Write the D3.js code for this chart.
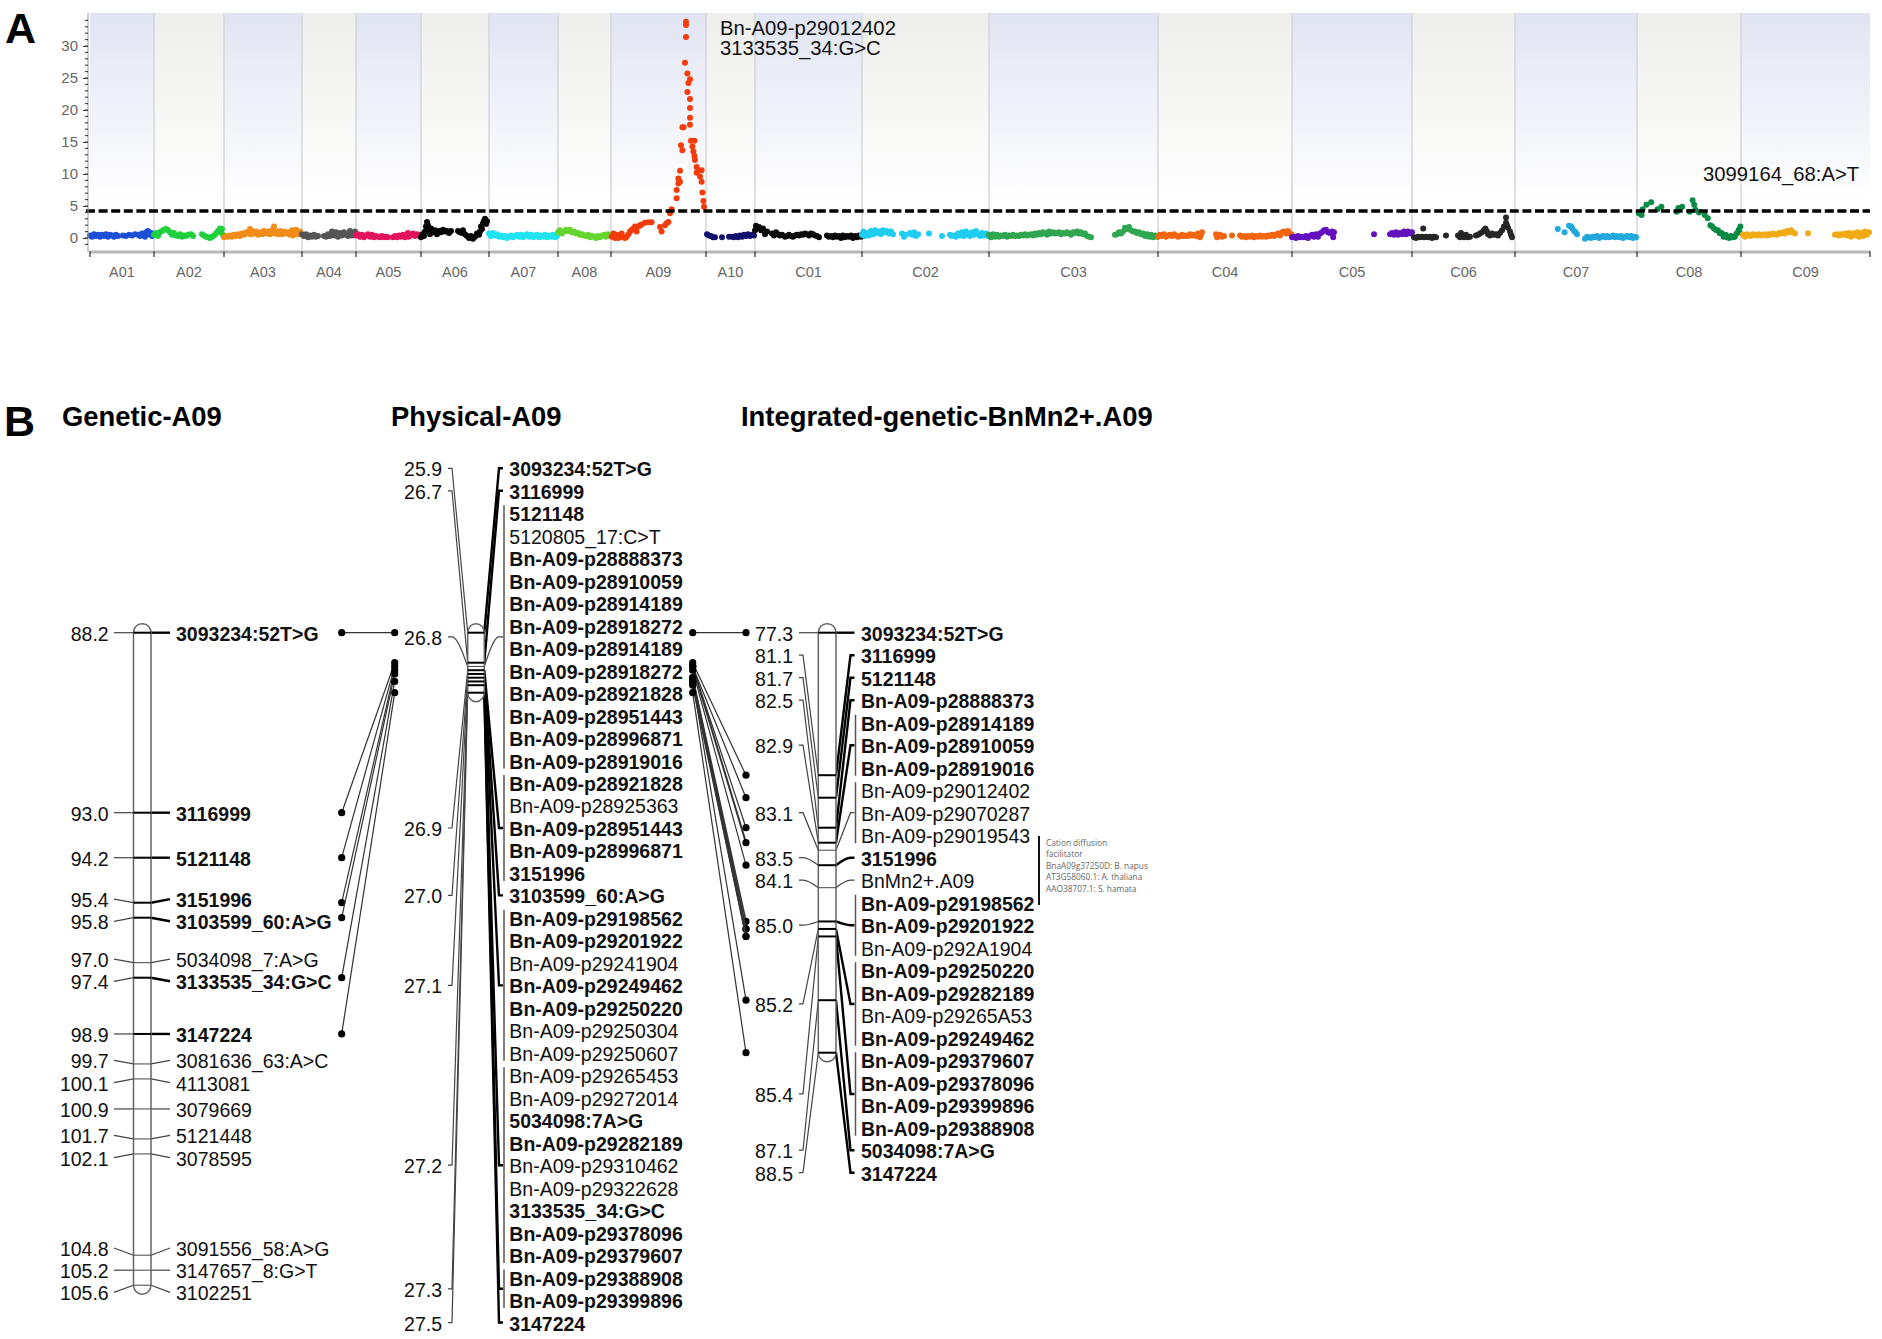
<!DOCTYPE html>
<html>
<head>
<meta charset="utf-8">
<title>Mn2+ QTL A09</title>
<script src="https://cdn.jsdelivr.net/npm/d3@7"></script>
<style>
body { margin: 0; background: #fff; }
text { font-family: "Liberation Sans", Arial, sans-serif; }
</style>
</head>
<body>
<script>
// panel A: chromosome names and lengths (Mb)
const chromNames = ["A01","A02","A03","A04","A05","A06","A07","A08","A09","A10","C01","C02","C03","C04","C05","C06","C07","C08","C09"];
const chromLengths = [32,35,39,27,32.5,34,34.5,26.5,47.5,24.5,53.5,63.5,84.5,67,60,51.5,61,52,64.5];
const lodTicks = [0,5,10,15,20,25,30];
const lodThreshold = 4.2;

// [position on chromosome, LOD]
const lodA01 = [[0,.4],[1,.2],[2,.6],[3,.3],[4,.5],[5,.2],[6,.5],[7,.3],[8,.6],[9,.2],[10,.5],[11,.4],[12,.2],[13,.5],[14,.3],[16.5,.4],[18,.3],[19.5,.5],[21,.4],[22.5,.6],[24,.5],[25,.3],[26,.7],[27,.5],[27.5,.2],[28,.9],[29,1.1],[29.5,.6],[30.5,.8],[31,.3],[31.5,.6]];
const lodA02 = [[0,.5],[1,.8],[2,.3],[3,.9],[4,1.1],[5,1.3],[6,1.4],[7,1.2],[8,.9],[9,.5],[10,.8],[11,.4],[12,.3],[13,.6],[14,.2],[15,.4],[16,.3],[17,.5],[18.5,.6],[19.5,.3],[24,.6],[25,.4],[26,.2],[27,.1],[28,0],[29,.2],[30,.4],[31,.7],[32,1.1],[33,1.5],[33.5,.9],[34,1.4],[34.5,.5]];
const lodA03 = [[0,.1],[1,.3],[2,.2],[3,.4],[4,.2],[5,.5],[6,.3],[7,.6],[8,.3],[9,.7],[10,.5],[11,.9],[12,.7],[13,1.4],[13.5,.6],[14,1.1],[15,.7],[16,1],[17,.5],[18,.9],[19,.6],[20,1.1],[21,.7],[22,1],[23,.6],[24,1.2],[25,1.8],[25.5,.7],[26,1],[27,.6],[28,1.1],[29,.6],[30,1],[31,.7],[32,.9],[33,.5],[34,1.2],[34.5,.4],[35,.7],[36,1.3],[37,.6],[38,1],[39,.5]];
const lodA04 = [[0,.6],[1,.3],[2,.6],[3,.1],[4,.4],[5,.2],[6,.5],[7,.2],[8,.3],[11,.3],[12,.2],[13,.6],[14,.3],[15,1],[16,.4],[17,.9],[18,.2],[19,.8],[20,.4],[21,.9],[22,.5],[23,.3],[24,1.1],[25,.4],[26,.8],[26.5,1]];
const lodA05 = [[0,.4],[1,.6],[2,.2],[3,.5],[4,.1],[5,.4],[6,.6],[7,.2],[8,.5],[9,.1],[10,.3],[11,.2],[12,.1],[13,.3],[14,.1],[15,.2],[16,.1],[18.5,.1],[19.5,.3],[20.5,.1],[21.5,.4],[22.5,.2],[23.5,.5],[24.5,.1],[25.5,.6],[26,.8],[26.5,.2],[27.5,.5],[28.5,.7],[29.5,.3],[30.5,.6],[31.5,.4],[32,.3]];
const lodA06 = [[0,.1],[.7,.6],[1.5,.3],[2,1],[2.5,1.8],[3,2.5],[3.5,2],[4,1.3],[4.5,.6],[5,1.5],[6,.9],[7,1.2],[8,.6],[9,1.1],[10,.9],[11,1.3],[12,1],[13,1.1],[14,.8],[15,1.1],[18.5,1.1],[19.5,.9],[20.5,.8],[21,1.2],[22,.6],[23,.3],[24,0],[25,.3],[26,-.1],[27,.2],[28,.7],[29,.5],[29.5,1],[30,1.8],[30.5,1.4],[31,2.3],[31.5,2.7],[32,3],[32.5,2.2],[33,2.6]];
const lodA07 = [[0,.7],[1,.3],[2,.8],[3,.4],[4,.6],[5,.2],[6,.4],[7,.1],[8,.3],[9,0],[10,.2],[11,.4],[12,.1],[13,.3],[14,.5],[15,.2],[16,.5],[17,.1],[18,.4],[19,.6],[20,.2],[21,.5],[22,.1],[23,.3],[24,.5],[25,.1],[26,.4],[27,.2],[28,.5],[29,.1],[30,.4],[31,.2],[32,.5],[33,.1],[34,.3]];
const lodA08 = [[0,.9],[1,1.2],[2,.7],[3,1],[4,1.3],[5,1.1],[6,1.3],[7,.9],[8,1],[9,.7],[10,.8],[11,.5],[12,.6],[13,.4],[14,.3],[15,.5],[16,.1],[17,.3],[18,.2],[19,0],[20,.3],[21,.1],[22,.3],[23,.5],[24,.2],[25,.6],[26,.4]];
const lodA09 = [[.3,.2],[1.2,.7],[2,0],[2.8,.5],[3.7,0],[4.5,.2],[5.3,.7],[6.2,.1],[7,0],[7.8,.2],[8.7,.6],[9.5,1],[10.3,1.25],[11.2,1.5],[12,1.8],[12.8,1],[13.7,1.8],[14.5,2],[15.3,2.1],[17,2.4],[18.7,2.45],[20.3,2.45],[24.5,1.7],[25.3,1],[27,2],[27.8,2.3],[28.7,2.5],[29.5,3.85],[30.3,4.5],[32.8,6.2],[32.8,7.5],[33.7,8.5],[34.5,8.8],[33.7,9.3],[34.5,10.5],[35,14.5],[35.7,13.7],[35.7,17.3],[36.3,17.3],[37.5,33.8],[37.5,33.3],[37.5,31.4],[37,27.4],[38.2,25.7],[39.5,24.8],[38.7,24.2],[38.2,22.8],[39.5,21.7],[39.5,20.3],[39.5,18.8],[39.5,17.7],[40,15.2],[41.7,15.2],[40.7,14.3],[41.2,13.5],[41.7,12.8],[42,12.2],[42.8,11.1],[43.7,10.6],[45.3,10.6],[42.8,10.2],[44.5,9.6],[45.3,8.8],[45.7,7.1],[46.2,5.8],[46.5,4.9]];
const lodA10 = [[.5,.6],[1.5,.4],[2.5,.3],[3.5,.1],[4.5,.1],[8,.1],[11.5,.2],[13,.2],[14,.1],[15,.3],[16,.1],[17,.4],[18,.2],[19,.5],[20,.3],[21,.6],[22,.3],[23,.5],[24,.4]];
const lodC01 = [[0,1.2],[.5,1.9],[1,1.5],[2,1.7],[3,1.2],[4,1.5],[5,.6],[6,1],[8.5,.7],[9.5,.4],[10.5,.9],[11.5,.6],[12.5,.4],[13.5,.5],[15,.2],[16,.3],[17,.5],[18,.3],[19,.2],[20,.4],[21,.5],[22,.4],[23,.6],[24,.5],[25,.7],[26,.6],[27,.4],[28,.7],[29,.6],[30,.4],[31,.3],[32,.1],[36,.4],[37,.2],[38,.3],[39,.1],[40,.4],[41,.2],[42,.3],[43,0],[44,.4],[45,.1],[46,.3],[47,.2],[48,.4],[49,0],[50,.3],[51,.1],[52,.4],[53,.2]];
const lodC02 = [[0,.5],[.7,1],[1.5,.3],[2.5,.8],[3.5,.4],[4.5,1.1],[5.5,.6],[6.5,1.2],[7.5,.8],[8.5,1],[9.5,.6],[10.5,1.2],[11.5,.9],[12.5,1.1],[13.5,.7],[14.5,1],[15.5,.6],[20,.7],[21,.2],[22,.5],[24,.8],[25,.5],[26,.9],[27,.3],[28,.6],[33.5,.7],[40,.3],[44,.5],[45,.3],[46,.4],[47,.2],[48,.7],[49,.4],[50,.9],[51,.3],[52,1],[53,.6],[54,.3],[55,.9],[56,.5],[57,1.1],[58,.6],[59,.3],[60,.8],[61,.4],[62,.7],[63,.3]];
const lodC03 = [[0,.5],[1,.1],[2,.6],[3,.2],[4,.5],[5,.2],[6,.4],[7,.3],[8,.5],[9,.2],[10,.4],[11,.3],[12,.5],[13,.3],[14,.4],[15,.3],[16,.5],[17,.4],[18,.6],[19,.4],[20,.5],[21,.6],[22,.4],[23,.7],[24,.5],[25,.8],[26,.6],[27,.9],[28,.7],[29,.5],[30,1],[31,.7],[32,.9],[33,.7],[34,.8],[35,.9],[36,.6],[37,.8],[38,.7],[39,.9],[40,.7],[41,.5],[42,.9],[43,.8],[44,1],[45,.7],[46,.9],[47,.6],[48,.7],[49,.3],[50,.2],[51,.1],[63,.5],[64,.6],[65,.9],[66,.7],[67,1],[68,1.6],[69,1.4],[70,1.7],[71,1.2],[72,1],[73,1],[74,.8],[75,.9],[76,.6],[77,.7],[78,.3],[79,.6],[80,.2],[81,.5],[82,.1],[83,.4],[84,.2]];
const lodC04 = [[0,.2],[1,.5],[2,.3],[3,.6],[4,.2],[5,.4],[6,.5],[7,.3],[8,.6],[9,.4],[10,.2],[11,.3],[12,.5],[13,.3],[14,.4],[15,.3],[16,.6],[17,.4],[18,.5],[19,.3],[20,.7],[21,.1],[21.5,.5],[22,.9],[29,.6],[29.5,.1],[30,.4],[31,.5],[32,.2],[33,.3],[37,.4],[41,.4],[42,.2],[43,.3],[44,.1],[45,.3],[46,.2],[47,.4],[48,.1],[49,.3],[50,.2],[51,.4],[52,.2],[53,.3],[54,.2],[55,.4],[56,.3],[57,.5],[58,.3],[59,.5],[60,.7],[61,.4],[62,.9],[63,1],[64,.7],[65,1.1],[66,.7],[67,.5]];
const lodC05 = [[0,.1],[1,.2],[2,0],[3,.3],[4,.1],[5,.2],[6,.1],[7,.3],[8,0],[9,.3],[10,.5],[11,.2],[12,.6],[13,.2],[14,.7],[15,.9],[16,1.2],[17,1.3],[18,.9],[19,.8],[20,1],[20.6,.1],[21,.9],[41,.6],[49,.6],[50,.8],[51,.5],[52,.9],[53,.5],[54,.8],[55,.6],[56,1],[57,.6],[58,1],[59,.7],[60,.9]];
const lodC06 = [[1,.1],[2,0],[3,.2],[4,.1],[5,.2],[5.6,1.5],[6,.1],[7,.2],[8,.1],[9,.2],[10,0],[11,.2],[12,.1],[17,.4],[23,.4],[24,.1],[24.5,.8],[25,.3],[26,.1],[27,.5],[28,.1],[29,.2],[32,.4],[33,.5],[34,.7],[35,.9],[36,1.2],[36.7,1.5],[37.5,1],[38,.6],[39,.4],[40,.7],[41,.5],[42,.6],[43,.4],[44,.8],[45,1.2],[46,1.8],[47,2.4],[47,3.2],[47.5,2],[48,1.6],[49,1],[49.5,.5],[50,.1]];
const lodC07 = [[21.4,1.4],[24.8,.9],[27,1.9],[28,1.8],[28.6,1.5],[29.5,1.1],[30.3,.9],[31,.6],[35,-.1],[36,.2],[37,.1],[38,0],[39,.2],[40,.1],[41,.3],[42,0],[43,.2],[44,.3],[45,.1],[46,.3],[47,.1],[48,.2],[49,.4],[50,.1],[51,.3],[52,.1],[53,.3],[54,0],[55,.2],[56,.3],[57,.1],[58,.3],[59,0],[60,.2],[60.5,.1]];
const lodC08 = [[.9,3.85],[2.3,3.6],[2.8,4.5],[4.7,5.2],[7.1,5.6],[10.3,4.5],[12.2,4.9],[19.8,4.1],[20.7,4.7],[22.6,4.9],[26.3,4.1],[27.8,5.9],[28.6,5.2],[29.2,4.4],[31,4],[33.9,3.6],[35.4,3.1],[36.7,2],[37.6,1.8],[38.5,1.5],[39.5,1.25],[40.5,1.2],[41.4,.75],[42.3,.8],[43.3,.2],[44.3,.5],[45,.1],[46.1,0],[47,.3],[48,.1],[48.9,.2],[49.8,.7],[50.8,1.25],[51.3,.9],[51.7,1.8]];
const lodC09 = [[1,.5],[2,.2],[3,.6],[4,.4],[5,.3],[6,.6],[7,.5],[8,.4],[9,.6],[10,.4],[11,.5],[12,.6],[13,.4],[14,.6],[15,.5],[16,.7],[17,.6],[18,.5],[19,.8],[20,.7],[21,.9],[22,.7],[23,1.1],[24,.9],[25,1.2],[26,.9],[27,.7],[33.5,.75],[47,.5],[48,.6],[49,.4],[50,.6],[51,.5],[52,.7],[53,.4],[54,.8],[55,.2],[56,.7],[57,.4],[58,.9],[59,.2],[60,.8],[61,.3],[62,1],[63,.5],[64,.9]];
const lodPoints = [lodA01,lodA02,lodA03,lodA04,lodA05,lodA06,lodA07,lodA08,lodA09,lodA10,lodC01,lodC02,lodC03,lodC04,lodC05,lodC06,lodC07,lodC08,lodC09];
const peakNotes = ["Bn-A09-p29012402","3133535_34:G>C","3099164_68:A>T"];

// panel B: genetic map (cM)
const geneticPos = [88.2,93.0,94.2,95.4,95.8,97.0,97.4,98.9,99.7,100.1,100.9,101.7,102.1,104.8,105.2,105.6];
const geneticNames = ["3093234:52T>G","3116999","5121148","3151996","3103599_60:A>G","5034098_7:A>G","3133535_34:G>C","3147224","3081636_63:A>C","4113081","3079669","5121448","3078595","3091556_58:A>G","3147657_8:G>T","3102251"];
const geneticBold = ["3093234:52T>G","3116999","5121148","3151996","3103599_60:A>G","3133535_34:G>C","3147224"];

// physical map (Mb), markers grouped by position
const physicalPos = [25.9,26.7,26.8,26.9,27.0,27.1,27.2,27.3,27.5];
const physicalNames = [
  ["3093234:52T>G"],
  ["3116999"],
  ["5121148","5120805_17:C>T","Bn-A09-p28888373","Bn-A09-p28910059","Bn-A09-p28914189","Bn-A09-p28918272","Bn-A09-p28914189","Bn-A09-p28918272","Bn-A09-p28921828","Bn-A09-p28951443","Bn-A09-p28996871","Bn-A09-p28919016"],
  ["Bn-A09-p28921828","Bn-A09-p28925363","Bn-A09-p28951443","Bn-A09-p28996871","3151996"],
  ["3103599_60:A>G"],
  ["Bn-A09-p29198562","Bn-A09-p29201922","Bn-A09-p29241904","Bn-A09-p29249462","Bn-A09-p29250220","Bn-A09-p29250304","Bn-A09-p29250607"],
  ["Bn-A09-p29265453","Bn-A09-p29272014","5034098:7A>G","Bn-A09-p29282189","Bn-A09-p29310462","Bn-A09-p29322628","3133535_34:G>C","Bn-A09-p29378096","Bn-A09-p29379607"],
  ["Bn-A09-p29388908","Bn-A09-p29399896"],
  ["3147224"]
];
const physicalPlain = ["5120805_17:C>T","Bn-A09-p28925363","Bn-A09-p29241904","Bn-A09-p29250304","Bn-A09-p29250607","Bn-A09-p29265453","Bn-A09-p29272014","Bn-A09-p29310462","Bn-A09-p29322628"];
const physicalHeavy = [1,1,0,1,1,1,1,1,1];

// integrated map (cM)
const integratedPos = [77.3,81.1,81.7,82.5,82.9,83.1,83.5,84.1,85.0,85.2,85.4,87.1,88.5];
const integratedNames = [
  ["3093234:52T>G"],
  ["3116999"],
  ["5121148"],
  ["Bn-A09-p28888373"],
  ["Bn-A09-p28914189","Bn-A09-p28910059","Bn-A09-p28919016"],
  ["Bn-A09-p29012402","Bn-A09-p29070287","Bn-A09-p29019543"],
  ["3151996"],
  ["BnMn2+.A09"],
  ["Bn-A09-p29198562","Bn-A09-p29201922","Bn-A09-p292A1904"],
  ["Bn-A09-p29250220","Bn-A09-p29282189","Bn-A09-p29265A53","Bn-A09-p29249462"],
  ["Bn-A09-p29379607","Bn-A09-p29378096","Bn-A09-p29399896","Bn-A09-p29388908"],
  ["5034098:7A>G"],
  ["3147224"]
];
const integratedPlain = ["Bn-A09-p29012402","Bn-A09-p29070287","Bn-A09-p29019543","BnMn2+.A09","Bn-A09-p292A1904","Bn-A09-p29265A53"];
const integratedHeavy = [1,1,1,1,1,0,1,0,1,1,1,1,1];
const geneNote = ["Cation diffusion","facilitator","BnaA09g37250D: B. napus","AT3G58060.1: A. thaliana","AAO38707.1: S. hamata"];

// colours per chromosome
const chromColors = ["#1c4fd6","#1fd03c","#f28c18","#555555","#e2125c","#050505","#1fe3f0","#63d52e","#f23c0c","#12126e","#0a0a0a","#1fcdf0","#2fa650","#f2650f","#6410bd","#262626","#22a8dc","#0a8a44","#f2aa14"];

var svg = d3.select("body").append("svg").attr("width", 1882).attr("height", 1339);

// ---- panel A ----
var xA = d3.scaleLinear().domain([0, d3.sum(chromLengths)]).range([90, 1870]);
var yA = d3.scaleLinear().domain([0, 30]).range([238, 46]);
var plotTop = 13, plotBottom = 250;
var chromStart = d3.cumsum([0].concat(chromLengths));

var defs = svg.append("defs");
[["bandBlue", "#e1e4f2"], ["bandGrey", "#eeeeec"]].forEach(function(g){
  var grad = defs.append("linearGradient").attr("id", g[0])
    .attr("gradientUnits", "userSpaceOnUse")
    .attr("x1", 0).attr("x2", 0).attr("y1", plotTop).attr("y2", 200);
  grad.append("stop").attr("offset", 0).attr("stop-color", g[1]);
  grad.append("stop").attr("offset", 1).attr("stop-color", "#ffffff");
});

svg.append("g").selectAll("rect").data(chromNames).enter().append("rect")
  .attr("x", (d,i) => xA(chromStart[i]))
  .attr("width", (d,i) => xA(chromStart[i+1]) - xA(chromStart[i]))
  .attr("y", plotTop).attr("height", plotBottom - plotTop)
  .attr("fill", (d,i) => i % 2 ? "url(#bandGrey)" : "url(#bandBlue)");

// separators
svg.append("g").selectAll("line").data(chromStart.slice(1, -1)).enter().append("line")
  .attr("x1", d => xA(d)).attr("x2", d => xA(d))
  .attr("y1", plotTop).attr("y2", plotBottom)
  .attr("stroke", "#d6d6d6").attr("stroke-width", 1.5);

// points
chromNames.forEach(function(name, i){
  svg.append("g").selectAll("circle").data(lodPoints[i]).enter().append("circle")
    .attr("cx", d => xA(chromStart[i] + d[0]))
    .attr("cy", d => yA(d[1]))
    .attr("r", 3)
    .attr("fill", chromColors[i]);
});

// threshold
svg.append("line")
  .attr("x1", 86).attr("x2", 1870)
  .attr("y1", yA(lodThreshold)).attr("y2", yA(lodThreshold))
  .attr("stroke", "#000").attr("stroke-width", 3.5).attr("stroke-dasharray", "9,3.6");

// y axis with minor ticks
var yAxisG = svg.append("g").attr("transform", "translate(88,0)")
  .call(d3.axisLeft(yA).tickValues(lodTicks).tickSize(5).tickPadding(5));
yAxisG.select(".domain").attr("stroke", "#999").attr("d", "M0," + plotTop + "V" + (plotBottom + 2));
yAxisG.selectAll("line").attr("stroke", "#444");
yAxisG.selectAll("text").attr("font-size", 15).attr("fill", "#666").style("font-family", "'Liberation Sans'");
svg.append("g").attr("transform", "translate(88,0)").selectAll("line")
  .data(d3.range(-1, 35)).enter().append("line")
  .attr("x1", -3).attr("x2", 0).attr("y1", d => yA(d)).attr("y2", d => yA(d))
  .attr("stroke", "#444").attr("stroke-width", 1.2);

// x axis band, ticks at the chromosome ends and centred names
svg.append("line").attr("x1", 90).attr("x2", 1870).attr("y1", 252).attr("y2", 252)
  .attr("stroke", "#b8b8b8").attr("stroke-width", 3);
svg.append("g").selectAll("line").data(chromStart).enter().append("line")
  .attr("x1", d => xA(d)).attr("x2", d => xA(d)).attr("y1", 251).attr("y2", 257)
  .attr("stroke", "#555").attr("stroke-width", 1.5);
svg.append("g").selectAll("text").data(chromNames).enter().append("text")
  .attr("x", (d,i) => xA(chromStart[i] + chromLengths[i] / 2))
  .attr("y", 277)
  .attr("text-anchor", "middle").attr("font-size", 14.5).attr("fill", "#666")
  .text(d => d);

// peak notes
svg.append("text").attr("x", 720).attr("y", 35).attr("font-size", 20.3).attr("fill", "#111").text(peakNotes[0]);
svg.append("text").attr("x", 720).attr("y", 55).attr("font-size", 20.3).attr("fill", "#111").text(peakNotes[1]);
svg.append("text").attr("x", 1703).attr("y", 181).attr("font-size", 20.3).attr("fill", "#111").text(peakNotes[2]);

// panel letters and titles
svg.append("text").attr("x", 5).attr("y", 43).attr("font-size", 43).attr("font-weight", "bold").text("A");
svg.append("text").attr("x", 4).attr("y", 436).attr("font-size", 43).attr("font-weight", "bold").text("B");
[["Genetic-A09", 62], ["Physical-A09", 391], ["Integrated-genetic-BnMn2+.A09", 741]].forEach(function(t){
  svg.append("text").attr("x", t[1]).attr("y", 426)
    .attr("font-size", 27.4).attr("font-weight", "bold").text(t[0]);
});

// ---- panel B ----
var fontSize = 19.5;
var lineGen = d3.line();
var curvedGen = d3.line().curve(d3.curveMonotoneX);

// push labels apart where their markers sit too close, keeping each cluster centred
function spreadLabels(ys, gap) {
  var clusters = ys.map(y => ({ sum: y, n: 1 }));
  var merged = true;
  while (merged) {
    merged = false;
    for (var i = 0; i < clusters.length - 1; i++) {
      var a = clusters[i], b = clusters[i+1];
      var aEnd = a.sum / a.n + (a.n - 1) * gap / 2;
      var bStart = b.sum / b.n - (b.n - 1) * gap / 2;
      if (bStart - aEnd < gap) {
        clusters.splice(i, 2, { sum: a.sum + b.sum, n: a.n + b.n });
        merged = true;
        break;
      }
    }
  }
  var out = [];
  clusters.forEach(function(c){
    for (var k = 0; k < c.n; k++) out.push(c.sum / c.n + (k - (c.n - 1) / 2) * gap);
  });
  return out;
}

// one map column; groups = [{pos, names, labelY (per name), centerY, heavy}]
function drawMap(cfg) {
  var g = svg.append("g");
  var y = cfg.y;

  // connectors
  cfg.groups.forEach(function(gr){
    var my = y(gr.pos), ly = gr.centerY;
    var gen = Math.abs(my - ly) < 30 ? curvedGen : lineGen;
    g.append("path")
      .attr("d", gen([[cfg.leftEnd, ly], [cfg.leftEnd + cfg.stub, ly], [cfg.barL, my]]))
      .attr("fill", "none").attr("stroke", "#444").attr("stroke-width", 1.2);
    g.append("path")
      .attr("d", gen([[cfg.barR, my], [cfg.rightEnd - cfg.stub, ly], [cfg.rightEnd, ly]]))
      .attr("fill", "none").attr("stroke", gr.heavy ? "#000" : "#444").attr("stroke-width", gr.heavy ? 2.4 : 1.2);
    if (gr.names.length > 1) {
      g.append("line")
        .attr("x1", cfg.rightEnd + 1).attr("x2", cfg.rightEnd + 1)
        .attr("y1", gr.labelY[0] - 8).attr("y2", gr.labelY[gr.labelY.length - 1] + 8)
        .attr("stroke", "#555").attr("stroke-width", 1.5);
    }
  });

  // chromosome outline
  var top = y.range()[0] - 9, bottom = y.range()[1] + 9;
  g.append("rect")
    .attr("x", cfg.barL).attr("y", top)
    .attr("width", cfg.barR - cfg.barL).attr("height", bottom - top)
    .attr("rx", 8.5).attr("ry", 9)
    .attr("fill", "#fff").attr("stroke", "#666").attr("stroke-width", 1.5);

  // markers on the chromosome
  cfg.groups.forEach(function(gr){
    g.append("line")
      .attr("x1", cfg.barL).attr("x2", cfg.barR)
      .attr("y1", y(gr.pos)).attr("y2", y(gr.pos))
      .attr("stroke", gr.heavy ? "#000" : "#444")
      .attr("stroke-width", gr.heavy ? 2 : 1);
  });

  // position labels and marker names
  cfg.groups.forEach(function(gr){
    g.append("text").attr("x", cfg.leftText).attr("y", gr.centerY).attr("dy", ".41em")
      .attr("text-anchor", "end").attr("font-size", fontSize).attr("fill", "#111")
      .text(gr.pos.toFixed(1));
    gr.names.forEach(function(name, k){
      g.append("text").attr("x", cfg.rightText).attr("y", gr.labelY[k]).attr("dy", ".41em")
        .attr("font-size", fontSize).attr("fill", "#111")
        .attr("font-weight", cfg.isBold(name) ? "bold" : "normal")
        .text(name);
    });
  });
}

function stackGroups(pos, names, heavy, firstY, gap) {
  var row = 0;
  return pos.map(function(p, i){
    var labelY = names[i].map(() => firstY + gap * (row++));
    return { pos: p, names: names[i], labelY: labelY, centerY: d3.mean(labelY), heavy: !!heavy[i] };
  });
}

var yGenetic = d3.scaleLinear().domain([88.2, 105.6]).range([632.7, 1285.2]);
var yPhysical = d3.scaleLinear().domain([25.9, 27.5]).range([632.7, 692.7]);
var yIntegrated = d3.scaleLinear().domain([77.3, 88.5]).range([632.7, 1052.7]);

var geneticLabelY = spreadLabels(geneticPos.map(p => yGenetic(p)), 22.2);
var geneticGroups = geneticPos.map(function(p, i){
  return { pos: p, names: [geneticNames[i]], labelY: [geneticLabelY[i]], centerY: geneticLabelY[i],
           heavy: geneticBold.includes(geneticNames[i]) };
});
var physicalGroups = stackGroups(physicalPos, physicalNames, physicalHeavy, 468.3, 22.48);
var integratedGroups = stackGroups(integratedPos, integratedNames, integratedHeavy, 632.7, 22.5);

// links between neighbouring maps, through the bold markers they share
function drawLinks(fromGroups, fromScale, toGroups, toScale, xFrom, xTo, isBold) {
  var toByName = new Map();
  toGroups.forEach(gr => gr.names.forEach(n => toByName.set(n, gr.pos)));
  var counts = d3.rollup(
    fromGroups.flatMap(gr => gr.names.filter(n => isBold(n) && toByName.has(n)).map(n => [gr.pos, toByName.get(n), n])),
    v => new Set(v.map(r => r[2])).size,
    r => r[0] + "|" + r[1]
  );
  var g = svg.append("g");
  counts.forEach(function(n, key){
    var pair = key.split("|").map(Number);
    var y0 = fromScale(pair[0]), y1 = toScale(pair[1]);
    g.append("line").attr("x1", xFrom).attr("x2", xTo).attr("y1", y0).attr("y2", y1)
      .attr("stroke", "#333").attr("stroke-width", 0.8 + 0.4 * n);
    g.append("circle").attr("cx", xFrom).attr("cy", y0).attr("r", 3.6).attr("fill", "#000");
    g.append("circle").attr("cx", xTo).attr("cy", y1).attr("r", 3.6).attr("fill", "#000");
  });
}

drawLinks(geneticGroups, yGenetic, physicalGroups, yPhysical, 341.7, 394.7, n => geneticBold.includes(n));
drawLinks(physicalGroups, yPhysical, integratedGroups, yIntegrated, 692.7, 746, n => !physicalPlain.includes(n) && !integratedPlain.includes(n));

drawMap({ y: yGenetic, groups: geneticGroups, barL: 133.5, barR: 151,
  leftEnd: 114, rightEnd: 170, stub: 0, leftText: 108.7, rightText: 176,
  isBold: n => geneticBold.includes(n) });
drawMap({ y: yPhysical, groups: physicalGroups, barL: 467.7, barR: 484.3,
  leftEnd: 448, rightEnd: 503, stub: 4, leftText: 442, rightText: 509.3,
  isBold: n => !physicalPlain.includes(n) });
drawMap({ y: yIntegrated, groups: integratedGroups, barL: 818.3, barR: 836,
  leftEnd: 799, rightEnd: 854.5, stub: 4, leftText: 793, rightText: 861,
  isBold: n => !integratedPlain.includes(n) });

// gene note
svg.append("line").attr("x1", 1039).attr("x2", 1039).attr("y1", 836).attr("y2", 905)
  .attr("stroke", "#111").attr("stroke-width", 2);
svg.append("g").selectAll("text").data(geneNote).enter().append("text")
  .attr("x", 1046).attr("y", (d,i) => 843 + i * 11.4).attr("dy", ".36em")
  .attr("font-size", 8.3).attr("fill", "#666").style("font-family", "'Open Sans'")
  .text(d => d);
</script>
</body>
</html>
